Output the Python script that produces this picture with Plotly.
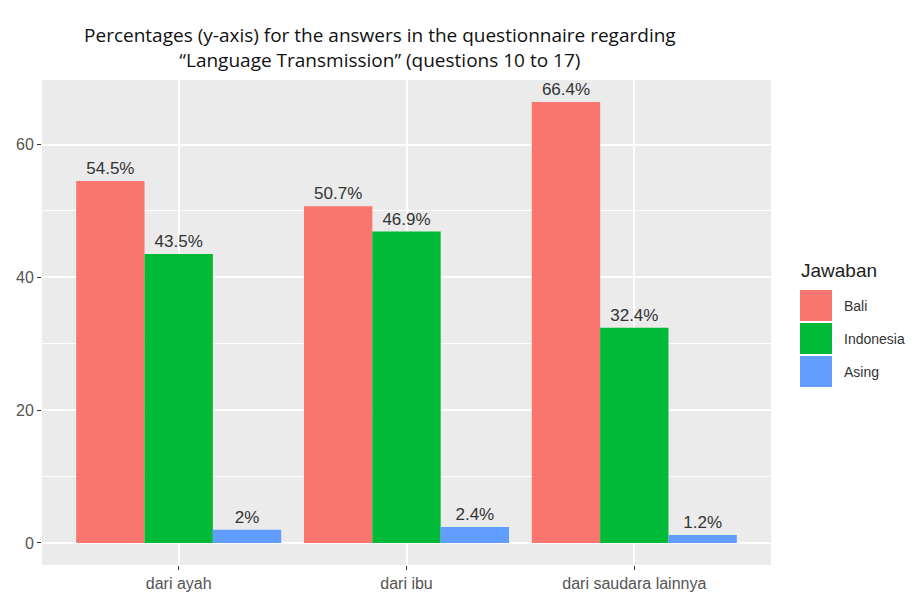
import plotly.graph_objects as go

categories = ["dari ayah", "dari ibu", "dari saudara lainnya"]
bali = [54.5, 50.7, 66.4]
indonesia = [43.5, 46.9, 32.4]
asing = [2.0, 2.4, 1.2]
bali_labels = ["54.5%", "50.7%", "66.4%"]
indonesia_labels = ["43.5%", "46.9%", "32.4%"]
asing_labels = ["2%", "2.4%", "1.2%"]
series_names = ["Bali", "Indonesia", "Asing"]
colors = ["#F8766D", "#00BA38", "#619CFF"]
legend_title = "Jawaban"

# page has an 8px body margin, so the figure is drawn 8px smaller and shifted
OFF = 8
W, H = 915 - OFF, 592 - OFF
ML, MT = 42 - OFF, 80 - OFF
MR = W - (771 - OFF)
MB = H - (565 - OFF)
PW, PH = W - ML - MR, H - MT - MB


def px_x(px):
    return (px - OFF - ML) / PW


def px_y(py):
    return (H - MB - (py - OFF)) / PH


fig = go.Figure()
for name, vals, labs, col in zip(series_names, [bali, indonesia, asing],
                                 [bali_labels, indonesia_labels, asing_labels], colors):
    fig.add_trace(go.Bar(
        x=categories, y=vals, name=name, marker=dict(color=col, line=dict(width=0)),
        text=labs, textposition="outside", cliponaxis=False, showlegend=False,
        textfont=dict(family="Liberation Sans, Arial", size=17, color="#333333"),
    ))

# manual ggplot-style legend
shapes = []
annotations = [dict(
    text=legend_title, xref="paper", yref="paper", x=px_x(799), y=px_y(270),
    xanchor="left", yanchor="middle", showarrow=False,
    font=dict(family="Liberation Sans, Arial", size=19, color="#222"),
)]
key_tops = [290, 323, 356]
for name, col, top in zip(series_names, colors, key_tops):
    shapes.append(dict(
        type="rect", xref="paper", yref="paper",
        x0=px_x(800), x1=px_x(832), y0=px_y(top + 31), y1=px_y(top),
        fillcolor=col, line=dict(width=0), layer="above",
    ))
    annotations.append(dict(
        text=name, xref="paper", yref="paper", x=px_x(842), y=px_y(top + 16),
        xanchor="left", yanchor="middle", showarrow=False,
        font=dict(family="Liberation Sans, Arial", size=14, color="#333"),
    ))

fig.update_layout(
    width=W, height=H,
    barmode="group", bargap=0.1, bargroupgap=0,
    paper_bgcolor="white", plot_bgcolor="#EBEBEB",
    margin=dict(l=ML, r=MR, t=MT, b=MB, autoexpand=False),
    title=dict(
        text="Percentages (y-axis) for the answers in the questionnaire regarding<br>\u201cLanguage Transmission\u201d (questions 10 to 17)",
        x=0.41, xanchor="center", y=0.942, yanchor="top",
        font=dict(family="Open Sans, sans-serif", size=19, color="#111"),
    ),
    showlegend=False,
    shapes=shapes,
    annotations=annotations,
)
fig.update_xaxes(
    automargin=False, range=[-0.6, 2.6],
    showgrid=True, gridcolor="white", gridwidth=1.5,
    ticks="outside", ticklen=4, tickcolor="#333", tickwidth=1,
    tickfont=dict(family="Liberation Sans, Arial", size=16, color="#555"),
    showline=False, zeroline=False,
)
fig.update_yaxes(
    automargin=False,
    range=[-3.32, 69.72], tickvals=[0, 20, 40, 60],
    showgrid=True, gridcolor="white", gridwidth=1.5,
    minor=dict(tickvals=[10, 30, 50], showgrid=True, gridcolor="white", gridwidth=0.7, ticks=""),
    ticks="outside", ticklen=4, tickcolor="#333", tickwidth=1,
    tickfont=dict(family="Liberation Sans, Arial", size=16, color="#555"),
    showline=False, zeroline=False,
)

fig.write_html("out.html")
